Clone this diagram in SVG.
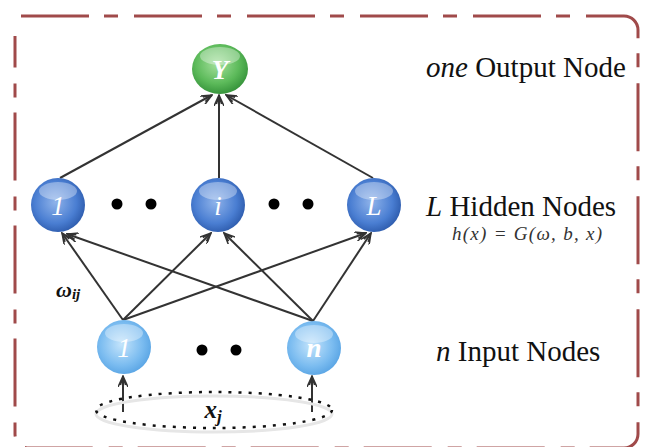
<svg xmlns="http://www.w3.org/2000/svg" width="648" height="447" viewBox="0 0 648 447">
<style>
.edge{stroke:#333;stroke-width:2;fill:none}
.serif{font-family:"Liberation Serif","Times New Roman","DejaVu Serif",serif}
.lbl{fill:#111;font-size:29px}
.nt{fill:#fff;font-style:italic;font-size:27px;text-anchor:middle}
.dot{fill:#000}
.hl{fill:#fff;opacity:0.35}
</style>
<defs>
<radialGradient id="gG" cx="0.45" cy="0.4" r="0.65">
<stop offset="0" stop-color="#a4e09c"/><stop offset="0.6" stop-color="#5cba5a"/><stop offset="1" stop-color="#2f8c35"/>
</radialGradient>
<radialGradient id="gB" cx="0.45" cy="0.45" r="0.65">
<stop offset="0" stop-color="#8fb3ea"/><stop offset="0.6" stop-color="#4a7ed2"/><stop offset="1" stop-color="#234f9f"/>
</radialGradient>
<radialGradient id="gL" cx="0.45" cy="0.45" r="0.65">
<stop offset="0" stop-color="#c4e4fb"/><stop offset="0.6" stop-color="#7bbcf0"/><stop offset="1" stop-color="#4d9ce0"/>
</radialGradient>
<marker id="ah" viewBox="0 0 12 10" refX="11" refY="5" markerWidth="12" markerHeight="10" markerUnits="userSpaceOnUse" orient="auto">
<path d="M0,0 L11,5 L0,10 M2,2.5 L11,5 L2,7.5" fill="none" stroke="#333" stroke-width="1.5"/>
</marker>
</defs>
<rect width="648" height="447" fill="#fff"/>
<path id="frame" d="M21,16 H624 A14,14 0 0 1 638,30 V434 A14,14 0 0 1 624,448 H29 A14,14 0 0 1 15,434 V36" fill="none" stroke="#a04a4a" stroke-width="3" stroke-dasharray="68 15 14 16"/>
<g id="connectors">
<line class="edge" x1="60" y1="178" x2="212" y2="95" marker-end="url(#ah)"/>
<line class="edge" x1="219" y1="178" x2="219" y2="95" marker-end="url(#ah)"/>
<line class="edge" x1="373" y1="178" x2="226" y2="95" marker-end="url(#ah)"/>
<line class="edge" x1="123" y1="320" x2="62" y2="233" marker-end="url(#ah)"/>
<line class="edge" x1="123" y1="320" x2="211" y2="233" marker-end="url(#ah)"/>
<line class="edge" x1="123" y1="320" x2="366" y2="233" marker-end="url(#ah)"/>
<line class="edge" x1="313" y1="321" x2="67" y2="234" marker-end="url(#ah)"/>
<line class="edge" x1="313" y1="321" x2="224" y2="233" marker-end="url(#ah)"/>
<line class="edge" x1="313" y1="321" x2="371" y2="233" marker-end="url(#ah)"/>
<line class="edge" x1="123" y1="412" x2="123" y2="376" marker-end="url(#ah)"/>
<line class="edge" x1="312" y1="412" x2="312" y2="376" marker-end="url(#ah)"/>
</g>
<g id="inputs-ellipse">
<ellipse cx="214" cy="412" rx="118" ry="18" fill="none" stroke="#e6e6e6" stroke-width="3" transform="translate(0,2)"/>
<ellipse cx="214" cy="410" rx="118" ry="18" fill="none" stroke="#111" stroke-width="2.5" stroke-dasharray="3 7"/>
<text class="serif" x="213" y="418" text-anchor="middle" font-weight="bold" font-style="italic" font-size="25" fill="#111">x<tspan font-size="17" dy="4">j</tspan></text>
</g>
<g id="node-Y">
<ellipse cx="220" cy="69" rx="28" ry="25" fill="url(#gG)"/>
<ellipse class="hl" cx="220" cy="56" rx="20" ry="9"/>
<text class="serif nt" x="220" y="79" font-weight="bold">Y</text>
</g>
<g id="node-h1">
<ellipse cx="58" cy="205" rx="27" ry="27" fill="url(#gB)"/>
<ellipse class="hl" cx="58" cy="191" rx="19" ry="9"/>
<text class="serif nt" x="58" y="215">1</text>
</g>
<g id="node-hi">
<ellipse cx="218" cy="205" rx="27" ry="27" fill="url(#gB)"/>
<ellipse class="hl" cx="218" cy="191" rx="19" ry="9"/>
<text class="serif nt" x="218" y="215">i</text>
</g>
<g id="node-hL">
<ellipse cx="374" cy="205" rx="27" ry="27" fill="url(#gB)"/>
<ellipse class="hl" cx="374" cy="191" rx="19" ry="9"/>
<text class="serif nt" x="374" y="215">L</text>
</g>
<g id="node-in1">
<ellipse cx="124" cy="347" rx="27" ry="27" fill="url(#gL)"/>
<ellipse class="hl" cx="124" cy="333" rx="19" ry="9"/>
<text class="serif nt" x="124" y="357">1</text>
</g>
<g id="node-inn">
<ellipse cx="314" cy="348" rx="27" ry="27" fill="url(#gL)"/>
<ellipse class="hl" cx="314" cy="334" rx="19" ry="9"/>
<text class="serif nt" x="314" y="357" font-weight="bold">n</text>
</g>
<g id="dots">
<circle class="dot" cx="117" cy="204" r="5.5"/>
<circle class="dot" cx="151" cy="204" r="5.5"/>
<circle class="dot" cx="274" cy="204" r="5.5"/>
<circle class="dot" cx="308" cy="204" r="5.5"/>
<circle class="dot" cx="202" cy="350" r="5.5"/>
<circle class="dot" cx="236" cy="350" r="5.5"/>
</g>
<g id="weight-label">
<text class="serif" x="56" y="297" font-weight="bold" font-style="italic" font-size="22" fill="#111">ω<tspan font-size="15" dy="2">ij</tspan></text>
</g>
<g id="labels">
<text class="serif lbl" x="426" y="77"><tspan font-style="italic">one</tspan> Output Node</text>
<text class="serif lbl" x="426" y="216"><tspan font-style="italic">L</tspan> Hidden Nodes</text>
<text class="serif" x="452" y="240" textLength="150" lengthAdjust="spacing" font-style="italic" font-size="19" fill="#333">h(x) = G(ω, b, x)</text>
<text class="serif lbl" x="436" y="361" font-size="28"><tspan font-style="italic">n</tspan> Input Nodes</text>
</g>
</svg>
